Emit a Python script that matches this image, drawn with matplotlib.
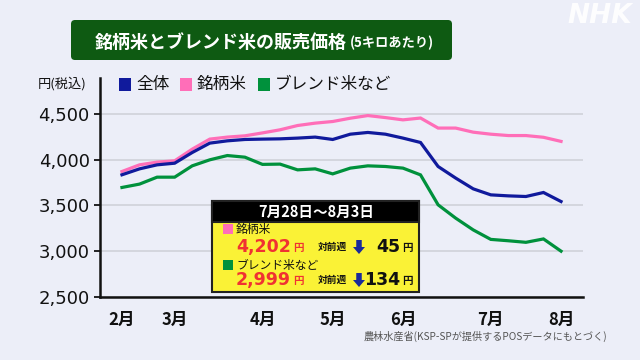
import numpy as np
import matplotlib.pyplot as plt
from matplotlib.patches import Rectangle, FancyBboxPatch

plt.rcParams['font.family'] = ['Noto Sans CJK JP', 'DejaVu Sans']

# weekly prices (yen / 5kg), week index 0 = early Feb, 25 = 7/28-8/3
weeks = np.arange(26)
zentai = [3836, 3901, 3945, 3963, 4080, 4183, 4208, 4223, 4227, 4230, 4238, 4249, 4223,
          4281, 4300, 4281, 4238, 4190, 3927, 3800, 3682, 3616, 3605, 3598, 3642, 3543]
meigara = [3872, 3945, 3975, 3989, 4117, 4227, 4249, 4263, 4295, 4329, 4376, 4402, 4420,
           4456, 4485, 4463, 4438, 4458, 4348, 4348, 4303, 4281, 4266, 4266, 4247, 4202]
blend = [3697, 3734, 3810, 3810, 3934, 4000, 4047, 4029, 3950, 3953, 3890, 3901, 3846,
         3909, 3934, 3927, 3909, 3835, 3507, 3361, 3232, 3128, 3113, 3096, 3133, 2999]

month_pos = [0, 3, 8, 12, 16, 21, 25]
month_labels = ['2月', '3月', '4月', '5月', '6月', '7月', '8月']
yticks = [2500, 3000, 3500, 4000, 4500]
ytick_labels = ['2,500', '3,000', '3,500', '4,000', '4,500']

bg = '#ECEEF8'
c_all = '#101A9C'
c_meigara = '#FF6EB8'
c_blend = '#00913C'

fig = plt.figure(figsize=(6.4, 3.6), dpi=100, facecolor=bg)
ax = fig.add_axes([100/640, (360-296.7)/360, 483/640, 219/360])
ax.set_facecolor(bg)

ax.plot(weeks, meigara, color=c_meigara, lw=2.3, solid_joinstyle='miter', zorder=3)
ax.plot(weeks, zentai, color=c_all, lw=2.3, solid_joinstyle='miter', zorder=4)
ax.plot(weeks, blend, color=c_blend, lw=2.3, solid_joinstyle='miter', zorder=3)

ax.set_xlim(-1.25, 26.25)
ax.set_ylim(2500, 4900)
ax.set_yticks(yticks)
ax.set_yticklabels(ytick_labels, family='DejaVu Sans', fontsize=13, color='#111')
ax.set_xticks(month_pos)
ax.set_xticklabels(month_labels, fontsize=12, fontweight='bold', color='#111')
ax.tick_params(axis='x', length=0, pad=10)
ax.tick_params(axis='y', length=4, width=1.2, pad=3.5)
ax.grid(axis='y', color='#D2D4DC', lw=1.3)
ax.set_axisbelow(True)
for s in ['top', 'right']:
    ax.spines[s].set_visible(False)
for s in ['left', 'bottom']:
    ax.spines[s].set_linewidth(1.8)
    ax.spines[s].set_color('#111')

# overlay in pixel coordinates
ov = fig.add_axes([0, 0, 1, 1], zorder=10)
ov.set_xlim(0, 640)
ov.set_ylim(360, 0)
ov.axis('off')
ov.patch.set_alpha(0)

# title
ov.add_patch(FancyBboxPatch((71, 20), 381, 40, boxstyle='round,pad=0,rounding_size=4',
                            fc='#0E5A12', ec='none'))
ov.text(347, 42, '銘柄米とブレンド米の販売価格', ha='right', va='center',
        fontsize=13, fontweight='bold', color='white')
ov.text(350, 43, '(5キロあたり)', ha='left', va='center',
        fontsize=9.5, fontweight='bold', color='white')
ov.text(632, 16, 'NHK', ha='right', va='center', family='DejaVu Sans',
        fontsize=19, fontweight='bold', style='italic', color='white', alpha=0.9)

# legend
ov.text(38, 84, '円(税込)', ha='left', va='center', fontsize=9.5, color='#111')
leg = [(119, c_all, '全体'), (180, c_meigara, '銘柄米'), (258, c_blend, 'ブレンド米など')]
for x0, c, lab in leg:
    ov.add_patch(Rectangle((x0, 78), 12, 13, fc=c, ec='none'))
    ov.text(x0 + 17, 84, lab, ha='left', va='center', fontsize=12, color='#111')

# info box
ov.add_patch(Rectangle((212, 201), 207, 91, fc='#FAF236', ec='#222', lw=1.5))
ov.add_patch(Rectangle((212, 201), 207, 20.7, fc='black', ec='#222', lw=1.5))
ov.text(316, 211.5, '7月28日～8月3日', ha='center', va='center',
        fontsize=10.5, fontweight='bold', color='white')

rows = [(229, 247, c_meigara, '銘柄米', '4,202', '45'),
        (265, 280, c_blend, 'ブレンド米など', '2,999', '134')]
for y_lab, y_num, c, lab, price, diff in rows:
    ov.add_patch(Rectangle((223, y_lab - 5), 9.5, 9.5, fc=c, ec='none'))
    ov.text(236, y_lab, lab, ha='left', va='center', fontsize=8.5, color='#111')
    ov.text(291, y_num, price, ha='right', va='center', family='DejaVu Sans',
            fontsize=12.5, fontweight='bold', color='#F03232')
    ov.text(293, y_num + 1, '円', ha='left', va='center', fontsize=7.5,
            fontweight='bold', color='#F03232')
    ov.text(318, y_num, '対前週', ha='left', va='center', fontsize=7,
            fontweight='bold', color='#111')
    ov.arrow(359, y_num - 7, 0, 14, width=5.5, head_width=12, head_length=7,
             length_includes_head=True, fc='#1A2A9A', ec='none')
    ov.text(400, y_num, diff, ha='right', va='center', family='DejaVu Sans',
            fontsize=12.5, fontweight='bold', color='#111')
    ov.text(402, y_num + 1, '円', ha='left', va='center', fontsize=7.5,
            fontweight='bold', color='#111')

# source
ov.text(607, 336, '農林水産省(KSP-SPが提供するPOSデータにもとづく)', ha='right', va='center',
        fontsize=7.3, color='#555')

fig.savefig('out.png', dpi=100, facecolor=bg)
